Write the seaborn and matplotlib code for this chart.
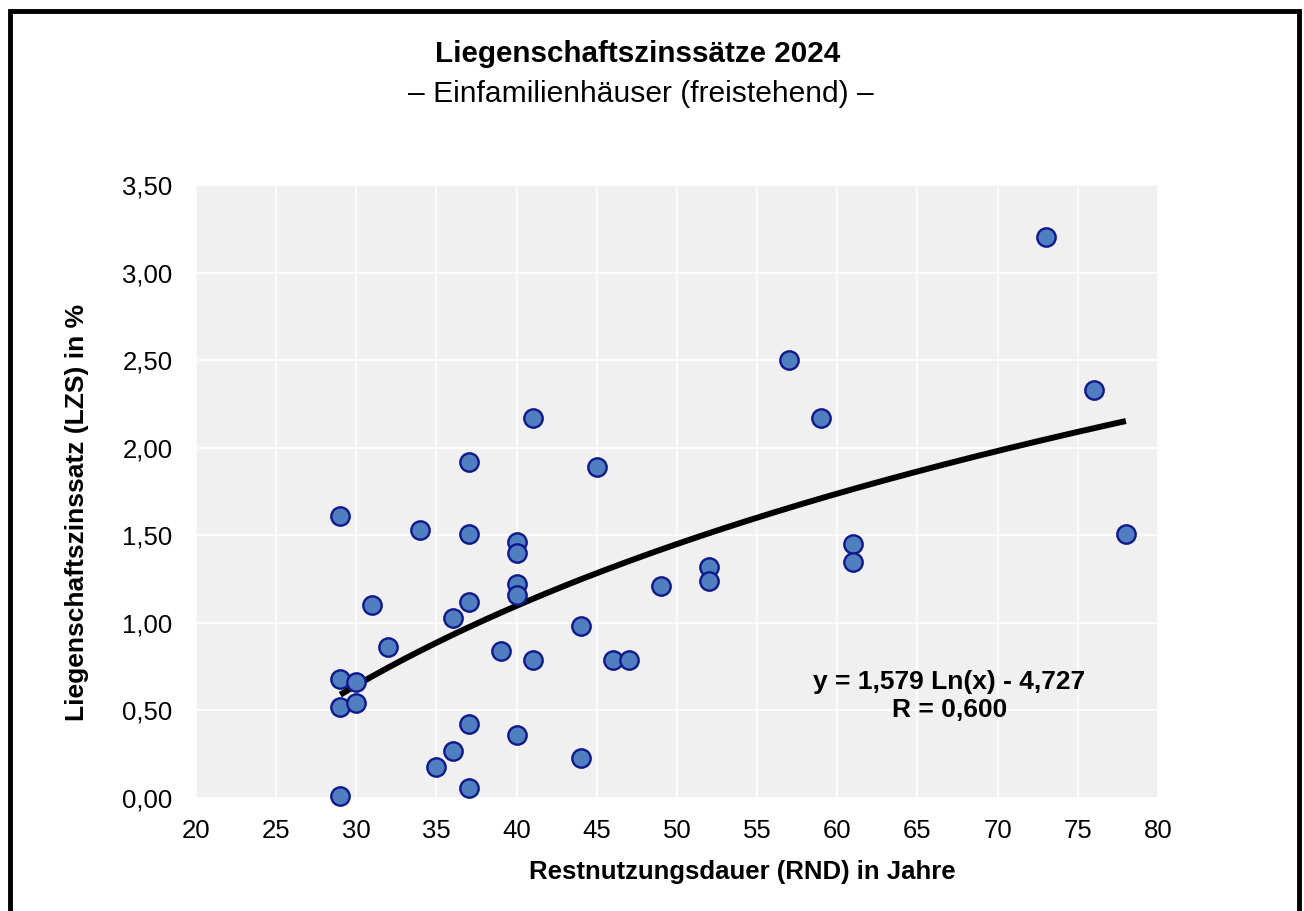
import numpy as np
import pandas as pd
import matplotlib
matplotlib.use('Agg')
import matplotlib.pyplot as plt
import matplotlib.ticker as mticker
import matplotlib.patches as mpatches
import seaborn as sns

# Restnutzungsdauer (Jahre) und Liegenschaftszinssatz (%)
rnd = [29, 29, 29, 29, 30, 30, 31, 32, 34, 35, 36, 36, 37, 37, 37, 37, 37,
       39, 40, 40, 40, 40, 40, 41, 41, 44, 44, 45, 46, 47, 49, 52, 52,
       57, 59, 61, 61, 73, 76, 78]
lzs = [0.01, 0.52, 0.68, 1.61, 0.66, 0.54, 1.10, 0.86, 1.53, 0.18, 0.27, 1.03,
       1.92, 1.51, 1.12, 0.42, 0.06, 0.84, 1.46, 1.40, 1.22, 1.16, 0.36,
       2.17, 0.79, 0.98, 0.23, 1.89, 0.79, 0.79, 1.21, 1.32, 1.24,
       2.50, 2.17, 1.45, 1.35, 3.20, 2.33, 1.51]

# logarithmische Trendlinie (aus Excel)
coef_a = 1.579
coef_b = -4.727
r_wert = 0.600

x_ticks = list(range(20, 81, 5))
y_ticks = [0.0, 0.5, 1.0, 1.5, 2.0, 2.5, 3.0, 3.5]

df = pd.DataFrame({'rnd': rnd, 'lzs': lzs})

sns.set_theme(style='darkgrid', rc={
    'axes.facecolor': '#F0F0F0', 'grid.color': 'white', 'grid.linewidth': 1.2,
})
plt.rcParams['font.family'] = ['Liberation Sans', 'DejaVu Sans']

fig = plt.figure(figsize=(13.04, 9.11), dpi=100)
ax = fig.add_axes([0.1503, 0.124, 0.7377, 0.673])

x_line = np.linspace(min(rnd), max(rnd), 200)
y_line = coef_a * np.log(x_line) + coef_b
ax.plot(x_line, y_line, color='black', linewidth=4.3, zorder=2,
        solid_capstyle='butt')

sns.scatterplot(data=df, x='rnd', y='lzs', ax=ax, s=175, color='#4F7FC0',
                edgecolor='#10188C', linewidth=1.7, zorder=3, clip_on=False)

ax.set_xlim(20, 80)
ax.set_ylim(0, 3.5)
ax.set_xticks(x_ticks)
ax.set_yticks(y_ticks)
ax.yaxis.set_major_formatter(mticker.FuncFormatter(lambda v, _: f'{v:.2f}'.replace('.', ',')))
ax.tick_params(axis='both', labelsize=18.5, colors='black', length=0)
ax.tick_params(axis='x', pad=15)
ax.tick_params(axis='y', pad=17)
for s in ax.spines.values():
    s.set_visible(False)

ax.set_xlabel('Restnutzungsdauer (RND) in Jahre', fontsize=18.5,
              fontweight='bold', color='black')
ax.xaxis.set_label_coords((742 - 196) / 962, -(872 - 798) / 613)
ax.xaxis.label.set_va('center')
ax.set_ylabel('Liegenschaftszinssatz (LZS) in %', fontsize=19,
              fontweight='bold', color='black')
ax.yaxis.set_label_coords(-(196 - 77) / 962, (798 - 512) / 613)
ax.yaxis.label.set_va('center')

ax.text(67.0, 0.664, f'y = {coef_a:.3f} Ln(x) - {abs(coef_b):.3f}'.replace('.', ','),
        ha='center', va='center', fontsize=19, fontweight='bold', color='black')
ax.text(67.0, 0.503, f'R = {r_wert:.3f}'.replace('.', ','),
        ha='center', va='center', fontsize=19, fontweight='bold', color='black')

fig.text(637.5 / 1304, 1 - 54 / 911, 'Liegenschaftszinssätze 2024', ha='center',
         va='center', fontsize=21.3, fontweight='bold', color='black')
fig.text(640.5 / 1304, 1 - 94 / 911, '– Einfamilienhäuser (freistehend) –', ha='center',
         va='center', fontsize=21.6, color='black')

frame = mpatches.Rectangle((9.5 / 1304, -0.05), (1298.5 - 9.5) / 1304, 1.05 - 11 / 911,
                           transform=fig.transFigure, fill=False,
                           edgecolor='black', linewidth=3.5)
fig.patches.append(frame)

fig.savefig('out.png', dpi=100, facecolor='white')
plt.close()
